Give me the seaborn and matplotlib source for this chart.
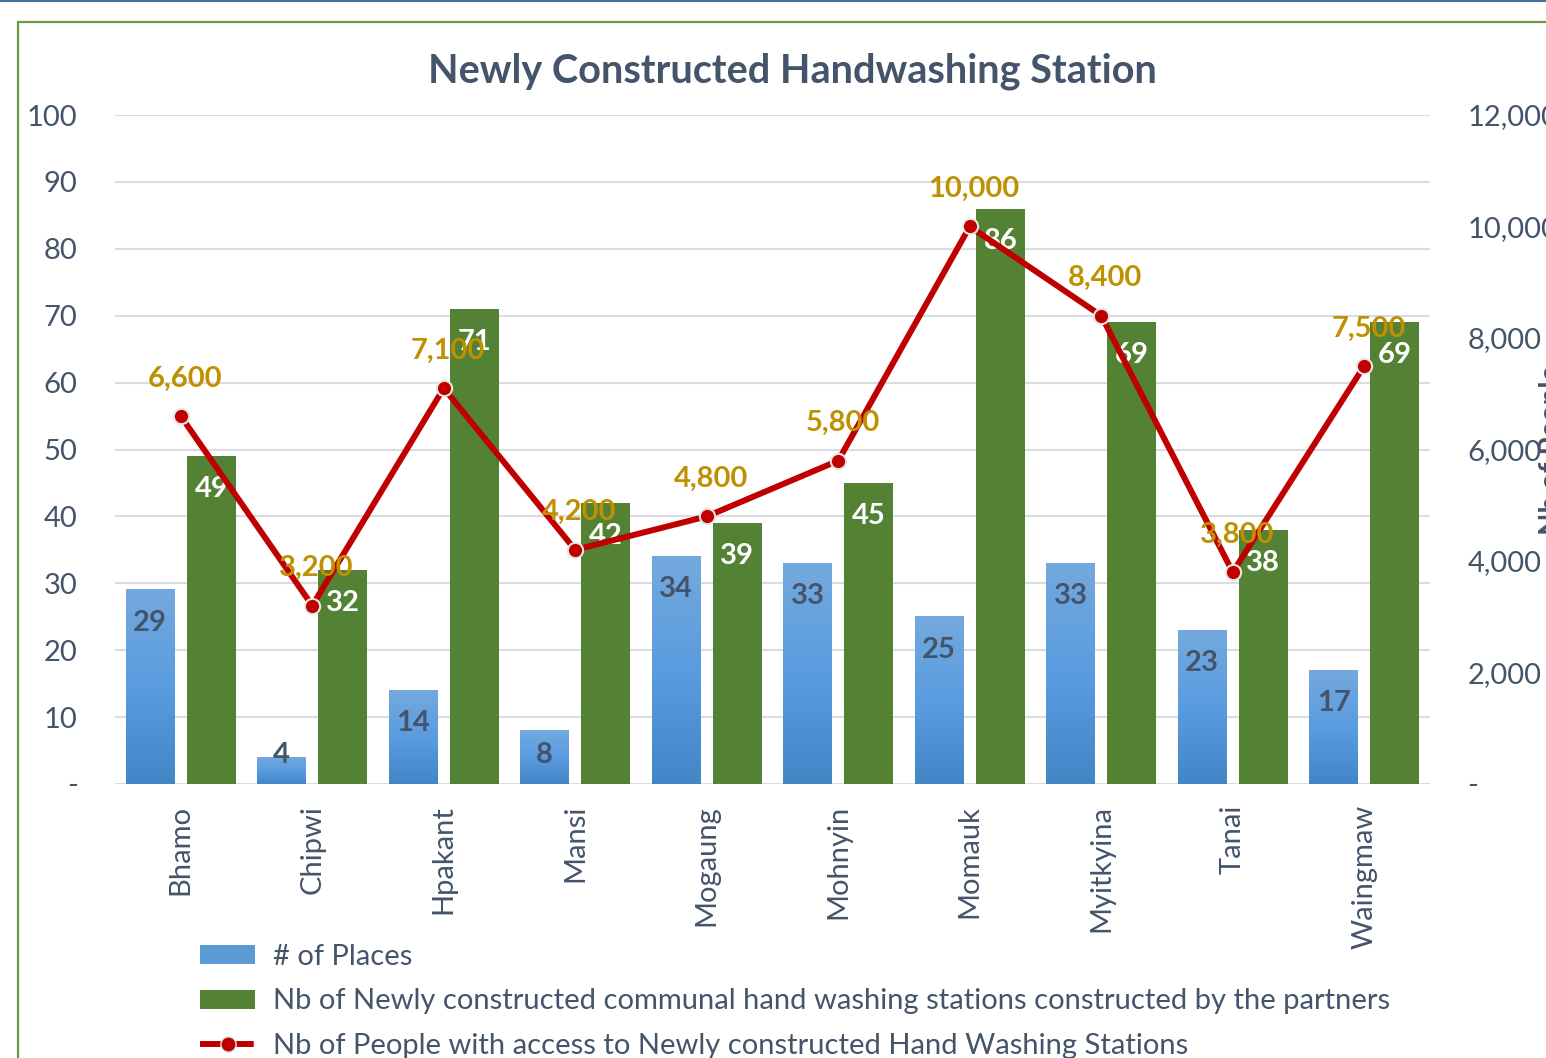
import numpy as np
import pandas as pd
import matplotlib
matplotlib.use("Agg")
import matplotlib.pyplot as plt
import seaborn as sns
from matplotlib.patches import Rectangle, Patch
from matplotlib.lines import Line2D
from matplotlib.ticker import FuncFormatter, MultipleLocator
from matplotlib.colors import LinearSegmentedColormap

# ---------------- data ----------------
categories = ["Bhamo", "Chipwi", "Hpakant", "Mansi", "Mogaung",
              "Mohnyin", "Momauk", "Myitkyina", "Tanai", "Waingmaw"]
places = [29, 4, 14, 8, 34, 33, 25, 33, 23, 17]
stations = [49, 32, 71, 42, 39, 45, 86, 69, 38, 69]
people = [6600, 3200, 7100, 4200, 4800, 5800, 10000, 8400, 3800, 7500]

series_places = "# of Places"
series_stations = "Nb of Newly constructed communal hand washing stations constructed by the partners"
series_people = "Nb of People with access to Newly constructed Hand Washing Stations"
title = "Newly Constructed Handwashing Station"
right_label = "Nb of People"

# ---------------- style ----------------
BLUE = "#5b9bd5"
GREEN = "#548235"
RED = "#c00000"
GOLD = "#bf9000"
TXT = "#44546a"
GRID = "#d9dde3"
FS = 21

sns.set_theme(style="white")
plt.rcParams['font.family'] = ['Lato', 'DejaVu Sans']

W, H = 1546, 1058
fig = plt.figure(figsize=(W / 100, H / 100), dpi=100)
ax = fig.add_axes([115 / W, 1 - 784 / H, (1430 - 115) / W, (784 - 115) / H])

df = pd.DataFrame({
    "District": categories * 2,
    "Series": [series_places] * len(categories) + [series_stations] * len(categories),
    "Value": places + stations,
})
sns.barplot(data=df, x="District", y="Value", hue="Series",
            palette=[BLUE, GREEN], width=0.93, gap=0.2, saturation=1,
            linewidth=0, legend=False, ax=ax, zorder=2)

ax.set_ylim(0, 100)
xlim = (-0.5, len(categories) - 0.5)
ax.set_xlim(*xlim)

# gradient on blue bars
cmap = LinearSegmentedColormap.from_list("bg", ["#4386c6", "#5a9ce0", "#74a9dd"])
grad = np.linspace(0, 1, 256).reshape(-1, 1)
blue_patches = ax.patches[:len(categories)]
green_patches = ax.patches[len(categories):2 * len(categories)]
for p in blue_patches:
    x0, y0 = p.get_x(), p.get_y()
    w, h = p.get_width(), p.get_height()
    ax.imshow(grad, extent=[x0, x0 + w, y0, y0 + h], origin="lower",
              aspect="auto", cmap=cmap, zorder=2.1)
ax.set_xlim(*xlim)
ax.set_ylim(0, 100)

# grid / spines
ax.yaxis.set_major_locator(MultipleLocator(10))
ax.grid(axis="y", color=GRID, linewidth=1.5, zorder=0)
ax.set_axisbelow(True)
for s in ax.spines.values():
    s.set_visible(False)
ax.yaxis.set_major_formatter(FuncFormatter(lambda v, p: "-" if v == 0 else f"{v:,.0f}"))
ax.tick_params(axis="y", length=0, pad=27, labelsize=FS, labelcolor=TXT)
ax.tick_params(axis="x", length=0, pad=15, labelsize=FS, labelcolor=TXT)
ax.set_xticks(range(len(categories)))
ax.set_xticklabels(categories, rotation=90, va="top")
ax.set_xlabel("")
ax.set_ylabel("")

# bar labels
for p, v in zip(blue_patches, places):
    cx = p.get_x() + p.get_width() / 2
    ax.text(cx, max(v - 4.9, 4.3), f"{v}", ha="center", va="center",
            fontsize=FS, fontweight="bold", color=TXT, zorder=5)
for p, v in zip(green_patches, stations):
    cx = p.get_x() + p.get_width() / 2
    ax.text(cx, v - 4.9, f"{v}", ha="center", va="center",
            fontsize=FS, fontweight="bold", color="white", zorder=5)

# line on secondary axis
ax2 = ax.twinx()
xpos = np.arange(len(categories))
sns.lineplot(x=xpos, y=people, ax=ax2, color=RED, linewidth=4.3,
             marker="o", markersize=11, markerfacecolor=RED,
             markeredgecolor="#e6e6e6", markeredgewidth=1.5, zorder=6)
ax2.set_ylim(0, 12000)
ax2.set_xlim(*xlim)
ax2.yaxis.set_major_locator(MultipleLocator(2000))
ax2.yaxis.set_major_formatter(FuncFormatter(lambda v, p: "-" if v == 0 else f"{v:,.0f}"))
ax2.tick_params(axis="y", length=0, pad=27, labelsize=FS, labelcolor=TXT)
for s in ax2.spines.values():
    s.set_visible(False)
ax2.grid(False)
ax2.set_ylabel(right_label, fontsize=FS, fontweight="bold", color=TXT)
ax2.yaxis.set_label_coords(1.083, 0.5)

for x, v in zip(xpos, people):
    ax2.annotate(f"{v:,}", (x, v), xytext=(3, 27), textcoords="offset points",
                 ha="center", va="center", fontsize=FS, fontweight="bold",
                 color=GOLD, zorder=7)

# title
fig.text(792 / W, 1 - 71 / H, title, ha="center", va="center",
         fontsize=28.5, fontweight="bold", color=TXT)

# legend
handles = [
    Patch(facecolor=BLUE, edgecolor="none"),
    Patch(facecolor=GREEN, edgecolor="none"),
    Line2D([0], [0], color=RED, linewidth=4.3, linestyle="--", marker="o",
           markersize=11, markerfacecolor=RED, markeredgecolor="#e6e6e6"),
]
leg = fig.legend(handles, [series_places, series_stations, series_people],
                 loc="upper left", bbox_to_anchor=(200 / W, 1 - 944 / H),
                 frameon=False, fontsize=FS, handlelength=1.9, handleheight=0.62,
                 handletextpad=0.6, labelspacing=0.63, borderpad=0, borderaxespad=0)
for t in leg.get_texts():
    t.set_color(TXT)

# chart border and top rule
fig.patches.append(Rectangle((18 / W, -0.2), 1.2, 1.2 - 22 / H, transform=fig.transFigure,
                             fill=False, edgecolor="#6a9c45", linewidth=1.6, zorder=-1))
fig.lines.append(Line2D([0, 1], [1 - 1 / H, 1 - 1 / H], transform=fig.transFigure,
                        color="#41719c", linewidth=1.5))

fig.savefig("out.png", dpi=100, facecolor="white")
